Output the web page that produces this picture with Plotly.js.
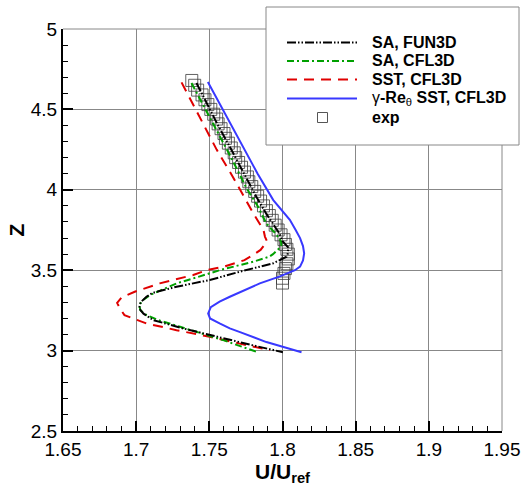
<!DOCTYPE html>
<html>
<head>
<meta charset="utf-8">
<script src="https://cdn.plot.ly/plotly-3.0.1.min.js"></script>
<style>html,body{margin:0;padding:0;background:#fff;}#chart{width:524px;height:492px;}</style>
</head>
<body>
<div id="chart"></div>
<script>
// ---- data ----
const saFun3dZ = [4.664,4.55,4.40,4.25,4.10,3.95,3.85,3.73,3.68,3.64,3.60,3.584,3.543,3.512,3.491,3.439,3.397,3.358,3.335,3.30,3.262,3.23,3.19,3.138,3.076,3.03,2.99];
const saFun3dU = [1.7412,1.7475,1.7560,1.7650,1.7735,1.7825,1.7890,1.7978,1.8000,1.8040,1.8035,1.8028,1.7937,1.7800,1.7710,1.7503,1.7276,1.7110,1.7070,1.7030,1.7020,1.7050,1.7116,1.7320,1.7590,1.7810,1.8003];

const saCfl3dZ = [4.664,4.55,4.40,4.25,4.10,4.01,3.90,3.79,3.72,3.678,3.656,3.636,3.60,3.584,3.553,3.53,3.50,3.46,3.418,3.345,3.314,3.283,3.25,3.221,3.19,3.148,3.065,2.992];
const saCfl3dU = [1.7378,1.7445,1.7535,1.7620,1.7705,1.7754,1.7830,1.7890,1.7960,1.7990,1.7992,1.7978,1.7935,1.7910,1.7800,1.7700,1.7570,1.7430,1.7276,1.7093,1.7047,1.7020,1.7030,1.7070,1.7150,1.7300,1.7595,1.7823];

const sstZ = [4.668,4.55,4.40,4.25,4.083,3.95,3.855,3.75,3.709,3.678,3.646,3.626,3.595,3.563,3.553,3.522,3.50,3.47,3.418,3.366,3.33,3.297,3.26,3.221,3.20,3.169,3.127,3.086,3.045,3.003];
const sstU = [1.7310,1.7377,1.7463,1.7550,1.7659,1.7740,1.7800,1.7870,1.7880,1.7895,1.7869,1.7850,1.7800,1.7740,1.7710,1.7600,1.7480,1.7390,1.7161,1.6990,1.6900,1.6870,1.6890,1.6920,1.6980,1.7070,1.7276,1.7503,1.7700,1.7914];

const gammaZ = [4.67,4.50,4.30,4.10,3.936,3.813,3.75,3.70,3.65,3.605,3.56,3.522,3.50,3.46,3.418,3.366,3.335,3.304,3.27,3.231,3.20,3.169,3.138,3.115,3.053,2.99];
const gammaU = [1.7490,1.7590,1.7710,1.7830,1.7937,1.8050,1.8090,1.8120,1.8140,1.8148,1.8140,1.8120,1.8085,1.7978,1.7845,1.7710,1.7640,1.7570,1.7510,1.7492,1.7505,1.7570,1.7640,1.7710,1.7890,1.8130];

const expZ = [4.68,4.65,4.62,4.59,4.56,4.53,4.50,4.47,4.44,4.41,4.38,4.35,4.32,4.29,4.26,4.23,4.20,4.17,4.14,4.11,4.08,4.05,4.02,3.99,3.96,3.93,3.90,3.87,3.84,3.81,3.78,3.75,3.72,3.69,3.66,3.63,3.60,3.57,3.54,3.51,3.48,3.45,3.42];
const expU = [1.738,1.740,1.742,1.745,1.747,1.749,1.751,1.753,1.755,1.756,1.758,1.760,1.761,1.763,1.765,1.767,1.768,1.770,1.772,1.774,1.776,1.777,1.779,1.781,1.783,1.785,1.787,1.789,1.791,1.793,1.795,1.797,1.799,1.801,1.802,1.803,1.804,1.804,1.803,1.802,1.801,1.800,1.800];

const xTickVals = [1.65,1.7,1.75,1.8,1.85,1.9,1.95];
const xTickText = ["1.65","1.7","1.75","1.8","1.85","1.9","1.95"];
const yTickVals = [2.5,3,3.5,4,4.5,5];
const yTickText = ["2.5","3","3.5","4","4.5","5"];

const seriesNames = ["SA, FUN3D","SA, CFL3D","SST, CFL3D","γ-Re<sub>θ</sub> SST, CFL3D","exp"];

// ---- styles ----
const FONT = "Liberation Sans, Arial, Helvetica, sans-serif";
const cBlack = "#000000", cGreen = "#00a000", cRed = "#e00000", cBlue = "#3838ff", cExp = "rgba(60,60,60,0.8)";
const dBlack = "9px,2px,1.5px,2px,1.5px,2px", dGreen = "7px,3px,2px,3px", dRed = "10px,7px";

const M = {l:63, r:22, t:29, b:61}, W = 524, H = 492;
const PW = W - M.l - M.r, PH = H - M.t - M.b;
const px = x => (x - M.l) / PW;
const py = y => (H - M.b - y) / PH;

const traces = [
  {x: expU, y: expZ, type:'scatter', mode:'markers', name: seriesNames[4],
   marker:{symbol:'square-open', size:12, color:cExp, line:{width:1, color:cExp}}},
  {x: gammaU, y: gammaZ, type:'scatter', mode:'lines', name: seriesNames[3],
   line:{color:cBlue, width:2}},
  {x: sstU, y: sstZ, type:'scatter', mode:'lines', name: seriesNames[2],
   line:{color:cRed, width:2, dash:dRed}},
  {x: saCfl3dU, y: saCfl3dZ, type:'scatter', mode:'lines', name: seriesNames[1],
   line:{color:cGreen, width:2, dash:dGreen}},
  {x: saFun3dU, y: saFun3dZ, type:'scatter', mode:'lines', name: seriesNames[0],
   line:{color:cBlack, width:2, dash:dBlack}}
];

// legend (drawn manually to match the long line samples)
const rowsY = [42.5, 61, 79.5, 98.5, 117.5];
const lineX0 = 287, lineX1 = 357, textX = 370, sqX = 322.5, sq = 10;
const legStyles = [
  {color:cBlack, dash:dBlack}, {color:cGreen, dash:dGreen}, {color:cRed, dash:dRed}, {color:cBlue, dash:'solid'}
];
const shapes = [
  {type:'line', xref:'paper', yref:'paper', x0:0, x1:1, y0:1, y1:1, line:{color:'#888', width:1}},
  {type:'line', xref:'paper', yref:'paper', x0:1, x1:1, y0:0, y1:1, line:{color:'#888', width:1}},
  {type:'rect', xref:'paper', yref:'paper', x0:px(266), x1:px(519), y0:py(145), y1:py(7),
   fillcolor:'#ffffff', line:{color:'#888', width:1}, layer:'above'}
];
legStyles.forEach((s,i) => {
  shapes.push({type:'line', xref:'paper', yref:'paper', x0:px(lineX0), x1:px(lineX1), y0:py(rowsY[i]), y1:py(rowsY[i]),
    line:{color:s.color, width:2, dash:s.dash}, layer:'above'});
});
shapes.push({type:'rect', xref:'paper', yref:'paper', x0:px(sqX - sq/2), x1:px(sqX + sq/2),
  y0:py(rowsY[4] + sq/2), y1:py(rowsY[4] - sq/2), line:{color:'#555', width:1}, fillcolor:'rgba(0,0,0,0)', layer:'above'});

const legTexts = [
  "<b>SA, FUN3D</b>", "<b>SA, CFL3D</b>", "<b>SST, CFL3D</b>",
  "γ<b>-Re</b><sub>θ</sub><b> SST, CFL3D</b>", "<b>exp</b>"
];
const annotations = legTexts.map((t,i) => ({
  xref:'paper', yref:'paper', x:px(textX), y:py(rowsY[i]), xanchor:'left', yanchor:'middle',
  text:t, showarrow:false, font:{family:FONT, size:16, color:'#000'}
}));

const layout = {
  width:W, height:H, margin:M, paper_bgcolor:'#fff', plot_bgcolor:'#fff', showlegend:false,
  font:{family:FONT, color:'#000'},
  xaxis:{range:[1.65,1.95], tickmode:'array', tickvals:xTickVals, ticktext:xTickText,
    ticks:'inside', ticklen:10, tickwidth:2, tickcolor:'#000',
    showline:true, linecolor:'#000', linewidth:2, showgrid:true, gridcolor:'#888', gridwidth:1, zeroline:false,
    tickfont:{family:FONT, size:19, color:'#000'},
    minor:{tickmode:'linear', tick0:1.65, dtick:0.01, ticks:'inside', ticklen:5, tickwidth:1, tickcolor:'#000', showgrid:false},
    title:{text:'<b>U/U</b><sub><b>ref</b></sub>', font:{family:FONT, size:21, color:'#000'}, standoff:3}},
  yaxis:{range:[2.5,5], tickmode:'array', tickvals:yTickVals, ticktext:yTickText,
    ticks:'inside', ticklen:10, tickwidth:2, tickcolor:'#000',
    showline:true, linecolor:'#000', linewidth:2, showgrid:true, gridcolor:'#888', gridwidth:1, zeroline:false,
    tickfont:{family:FONT, size:19, color:'#000'},
    minor:{tickmode:'linear', tick0:2.5, dtick:0.1, ticks:'inside', ticklen:5, tickwidth:1, tickcolor:'#000', showgrid:false},
    title:{text:'<b>Z</b>', font:{family:FONT, size:21, color:'#000'}, standoff:0}},
  shapes:shapes, annotations:annotations
};

Plotly.newPlot('chart', traces, layout, {staticPlot:true, displayModeBar:false});
</script>
</body>
</html>
